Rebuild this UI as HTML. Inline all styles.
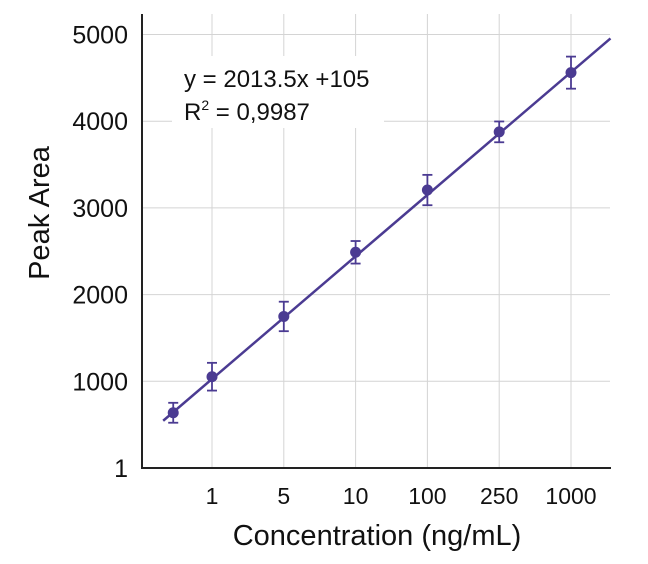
<!DOCTYPE html>
<html><head><meta charset="utf-8"><style>
html,body{margin:0;padding:0;background:#fff;}
svg{display:block;font-family:"Liberation Sans",sans-serif;}
</style></head><body>
<svg id="chart" width="648" height="564" viewBox="0 0 648 564" xmlns="http://www.w3.org/2000/svg">
<g id="grid"></g>
<rect x="172" y="56" width="212" height="72" fill="#fff"/>
<g id="ticks"></g>
<line x1="142" y1="14" x2="142" y2="468" stroke="#222" stroke-width="2"/>
<line x1="141" y1="468" x2="611" y2="468" stroke="#222" stroke-width="2"/>
<g id="marks"></g>
<text x="184" y="87" font-size="24" fill="#111">y =  2013.5x +105</text>
<text x="184" y="120" font-size="24" fill="#111">R<tspan font-size="14" dy="-10">2</tspan><tspan dy="10"> = 0,9987</tspan></text>
<text transform="translate(49,213) rotate(-90)" text-anchor="middle" font-size="29" fill="#111">Peak Area</text>
<text x="377" y="545" text-anchor="middle" font-size="29" fill="#111">Concentration (ng/mL)</text>
</svg>
<script>
const xLabels = ["1","5","10","100","250","1000"];
const yTicks = [0,1000,2000,3000,4000,5000];
const yTickLabels = ["1","1000","2000","3000","4000","5000"];
const pointX = [-0.54,0,1,2,3,4,5];
const pointY = [637,1053,1748,2488,3206,3877,4560];
const pointErr = [115,160,170,130,175,120,185];
const fitX = [-0.68,5.55];
const fitY = [545,4955];
const NS="http://www.w3.org/2000/svg";
function xs(i){return 212+i*71.8;}
function ys(v){return 468-v*0.0867;}
function mk(t,a,p){const e=document.createElementNS(NS,t);for(const k in a)e.setAttribute(k,a[k]);p.appendChild(e);return e;}
const grid=document.getElementById('grid'),ticks=document.getElementById('ticks'),marks=document.getElementById('marks');
yTicks.forEach((v,i)=>{
  if(v>0){const l=mk('line',{x1:142,x2:610,y1:ys(v),y2:ys(v),stroke:'#d4d4d4','stroke-width':1},grid);
  
  }
  const t=mk('text',{x:128,y:ys(v)+9,'text-anchor':'end','font-size':25,fill:'#111'},ticks);
  t.textContent=yTickLabels[i];
  
  
});
xLabels.forEach((s,i)=>{
  const l=mk('line',{x1:xs(i),x2:xs(i),y1:14,y2:468,stroke:'#d4d4d4','stroke-width':1},grid);
  
  
  const t=mk('text',{x:xs(i),y:504,'text-anchor':'middle','font-size':23,fill:'#111'},ticks);
  t.textContent=s;
  
  
});
const fl=mk('line',{x1:xs(fitX[0]),y1:ys(fitY[0]),x2:xs(fitX[1]),y2:ys(fitY[1]),stroke:'#4b3b92','stroke-width':2.5},marks);


pointX.forEach((px,i)=>{
  const x=xs(px),y=ys(pointY[i]),e=pointErr[i]*0.0867;
  const g=mk('g',{stroke:'#4b3b92','stroke-width':1.8,fill:'#4b3b92'},marks);
  
  
  mk('line',{x1:x,x2:x,y1:y-e,y2:y+e},g);
  mk('line',{x1:x-5,x2:x+5,y1:y-e,y2:y-e},g);
  mk('line',{x1:x-5,x2:x+5,y1:y+e,y2:y+e},g);
  mk('circle',{cx:x,cy:y,r:5.5,stroke:'none'},g);
});
</script>
</body></html>
